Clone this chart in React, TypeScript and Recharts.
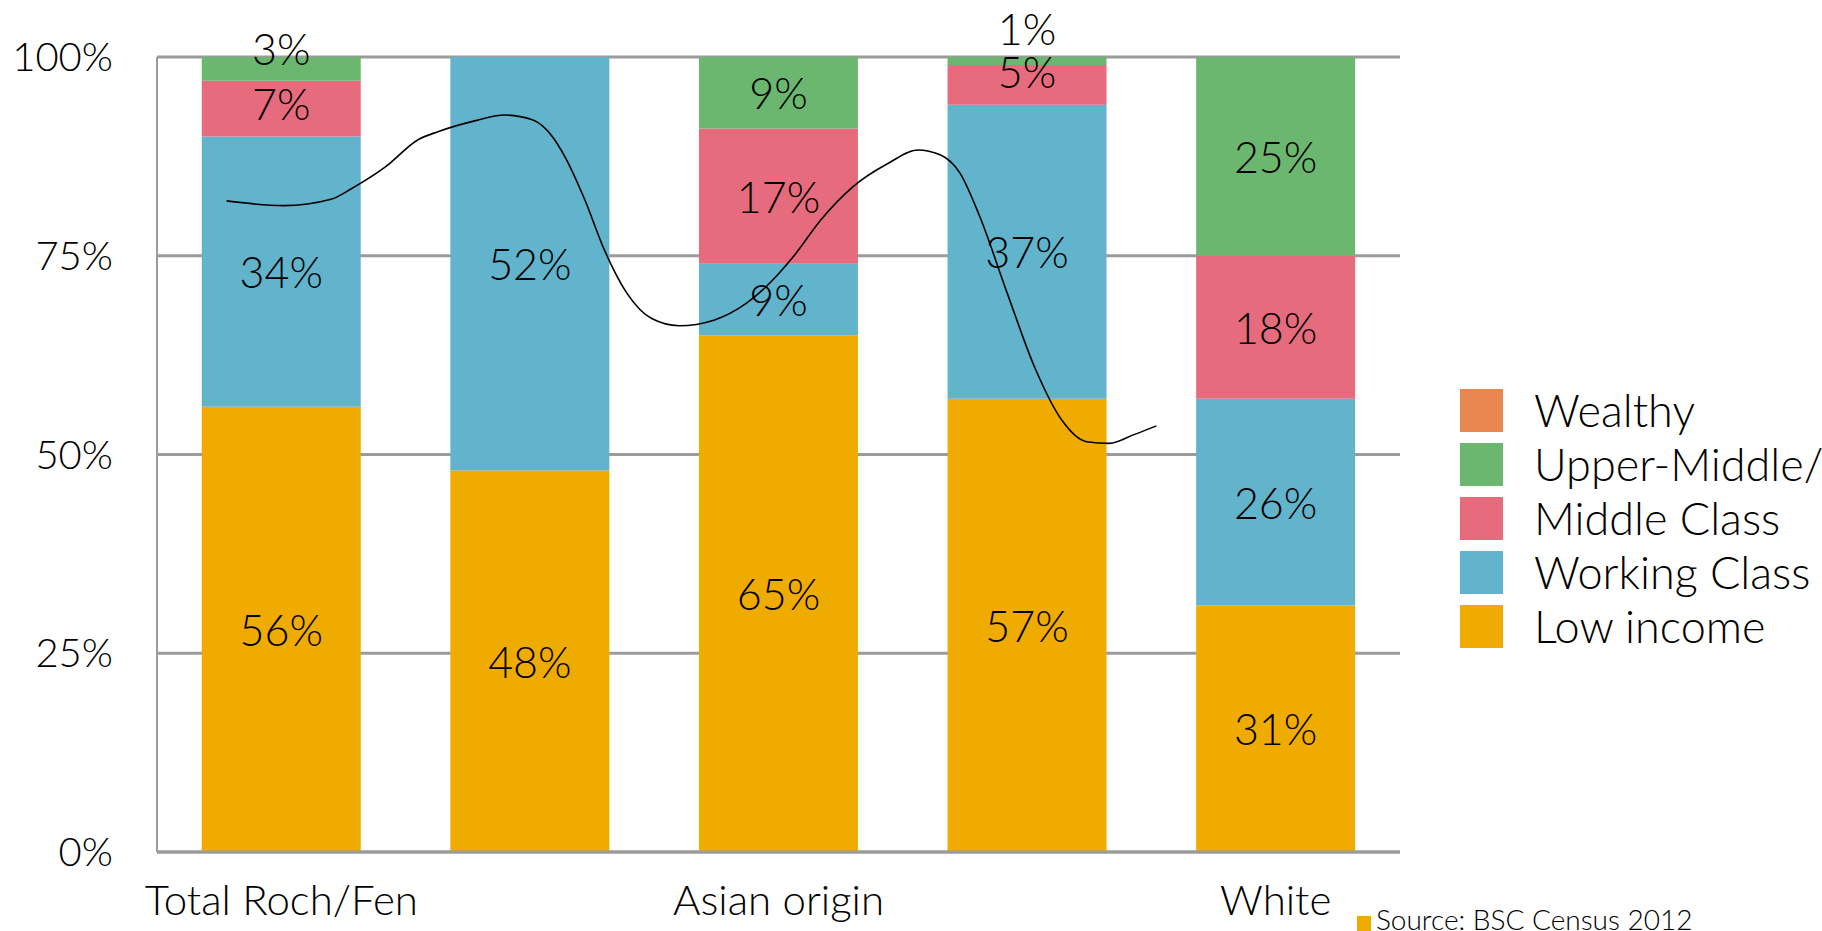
import { ComposedChart, Bar, Line, XAxis, YAxis, CartesianGrid, LabelList } from 'recharts'

const FONT = 'Lato, "Open Sans", sans-serif'

// Share of households in each income band, per group (percent)
const groups = ['Total Roch/Fen', 'Black origin', 'Asian origin', 'Mixed origin', 'White']
const lowIncome = [56, 48, 65, 57, 31]
const workingClass = [34, 52, 9, 37, 26]
const middleClass = [7, 0, 17, 5, 18]
const upperMiddle = [3, 0, 9, 1, 25]
const wealthy = [0, 0, 0, 0, 0]
const yTicks = [0, 25, 50, 75, 100]

// Hand-drawn annotation stroke: x in category widths from the left edge, y in percent
const noteX = [0.28, 0.51, 0.7, 0.78, 0.92, 1.05, 1.13, 1.27, 1.4, 1.51, 1.59, 1.64, 1.72, 1.8, 1.89, 1.99, 2.1, 2.24, 2.37, 2.45, 2.56, 2.67, 2.8, 2.94, 3.06, 3.15, 3.23, 3.31, 3.42, 3.53, 3.64, 3.74, 3.83, 3.93, 4.02]
const noteY = [81.9, 81.3, 82.1, 83.4, 86.2, 89.6, 90.6, 91.9, 92.7, 92.1, 90.0, 87.5, 82.1, 75.7, 70.3, 67.1, 66.2, 66.9, 69.0, 71.1, 74.9, 79.5, 83.7, 86.6, 88.3, 87.7, 85.4, 79.9, 70.3, 61.0, 54.3, 51.6, 51.4, 52.5, 53.6]

const series = [
  { key: 'low', name: 'Low income', color: '#F0AB00', values: lowIncome },
  { key: 'working', name: 'Working Class', color: '#62B4CC', values: workingClass },
  { key: 'middle', name: 'Middle Class', color: '#E66C7D', values: middleClass },
  { key: 'upper', name: 'Upper-Middle/Professional', color: '#6CB76F', values: upperMiddle },
  { key: 'wealthy', name: 'Wealthy', color: '#E8874F', values: wealthy },
]

const data = groups.map((group, i) => {
  const row: Record<string, string | number> = { group }
  series.forEach((s) => {
    row[s.key] = s.values[i]
  })
  return row
})

const notePath = noteX.map((u, i) => ({ u, pct: noteY[i] }))

// small top segments have their labels lifted so they don't collide (keyed by group)
const labelNudge: Record<string, Record<string, number>> = {
  upper: { 'Total Roch/Fen': -20, 'Mixed origin': -32 },
  middle: { 'Total Roch/Fen': -5, 'Mixed origin': -13 },
}

// the label value is the group name, so the nudge and the number come from the arrays
const makeLabel = (s: (typeof series)[number]) => (props: any) => {
  const { x, y, width, height, value } = props
  const i = groups.indexOf(String(value))
  const v = s.values[i]
  if (!v) return null
  const dy = labelNudge[s.key]?.[String(value)] ?? 0
  return (
    <text
      x={Number(x) + Number(width) / 2}
      y={Number(y) + Number(height) / 2 + dy}
      textAnchor="middle"
      dominantBaseline="central"
      fill="#000"
      fontSize={43}
      fontFamily={FONT}
      fontWeight={300}
    >
      {v}%
    </text>
  )
}

function IncomeLegend() {
  return (
    <div style={{ position: 'absolute', left: 1460, top: 389, fontFamily: FONT, fontWeight: 300 }}>
      {[...series].reverse().map((s) => (
        <div key={s.key} style={{ display: 'flex', alignItems: 'center', height: 43, marginBottom: 11, whiteSpace: 'nowrap' }}>
          <span style={{ display: 'inline-block', width: 43, height: 43, background: s.color }} />
          <span style={{ marginLeft: 31, fontSize: 45, color: '#000', lineHeight: '43px' }}>{s.name}</span>
        </div>
      ))}
    </div>
  )
}

export default function App() {
  return (
    <div style={{ position: 'relative', width: 1822, height: 931, overflow: 'hidden', background: '#fff' }}>
      <style>{'body{margin:0}'}</style>
      <ComposedChart
        width={1822}
        height={931}
        data={data}
        margin={{ top: 57, right: 422, bottom: 0, left: 0 }}
        barCategoryGap="18%"
      >
        <CartesianGrid horizontal vertical={false} stroke="#9B9B9B" strokeWidth={3} />
        <XAxis
          dataKey="group"
          interval={1}
          height={79}
          tickLine={false}
          tickSize={0}
          tickMargin={33}
          axisLine={{ stroke: '#9B9B9B', strokeWidth: 3 }}
          tick={{ fill: '#000', fontSize: 42, fontFamily: FONT, fontWeight: 300 }}
        />
        <XAxis xAxisId="note" dataKey="u" type="number" domain={[0, 5]} allowDataOverflow hide />
        <YAxis
          width={157}
          domain={[0, 100]}
          ticks={yTicks}
          tickFormatter={(v) => `${v}%`}
          tickLine={false}
          tickSize={0}
          tickMargin={44}
          axisLine={{ stroke: '#9B9B9B', strokeWidth: 2 }}
          tick={{ fill: '#000', fontSize: 40, fontFamily: FONT, fontWeight: 300 }}
        />
        {series.map((s) => (
          <Bar key={s.key} dataKey={s.key} name={s.name} stackId="a" fill={s.color} isAnimationActive={false}>
            <LabelList valueAccessor={(entry: any) => entry?.payload?.group} content={makeLabel(s)} />
          </Bar>
        ))}
        <Line
          xAxisId="note"
          data={notePath}
          dataKey="pct"
          type="monotoneX"
          stroke="#000"
          strokeWidth={1.6}
          dot={false}
          activeDot={false}
          isAnimationActive={false}
          legendType="none"
        />
      </ComposedChart>
      <IncomeLegend />
      <div
        style={{
          position: 'absolute',
          left: 1357,
          top: 902,
          display: 'flex',
          alignItems: 'center',
          fontFamily: FONT,
          fontWeight: 300,
          fontSize: 28,
          color: '#000',
          whiteSpace: 'nowrap',
        }}
      >
        <span style={{ display: 'inline-block', width: 14, height: 15, background: '#F0AB00', marginRight: 5, marginTop: 8 }} />
        Source: BSC Census 2012
      </div>
    </div>
  )
}
